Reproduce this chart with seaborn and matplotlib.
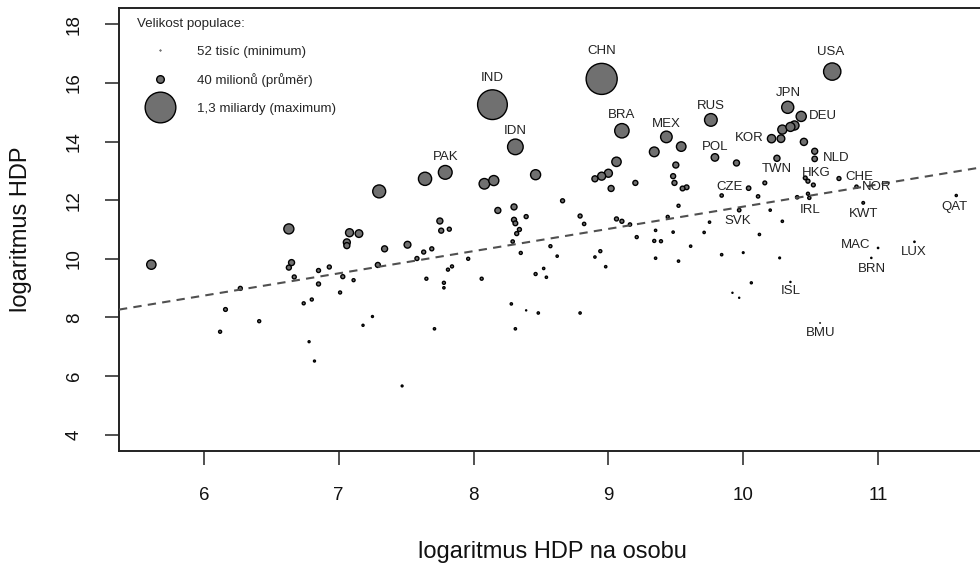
import numpy as np
import pandas as pd
import matplotlib
matplotlib.use("Agg")
import matplotlib.pyplot as plt
from matplotlib.lines import Line2D
import seaborn as sns

# kód země (jen u popsaných zemí), log HDP na osobu, log HDP, populace v milionech
zeme = ["", "", "", "", "", "", "", "", "", "",
        "", "", "", "", "", "", "", "", "", "",
        "", "", "", "", "", "", "", "", "", "",
        "", "CHN", "IND", "IDN", "PAK", "", "", "", "", "BRA",
        "MEX", "", "", "", "", "", "", "", "", "",
        "", "", "", "", "", "", "", "", "", "",
        "", "", "", "", "", "", "", "", "", "",
        "", "", "", "", "", "", "", "", "", "",
        "", "", "", "", "", "", "", "", "", "",
        "", "", "", "", "", "", "", "", "", "",
        "", "", "", "", "", "USA", "JPN", "DEU", "", "",
        "", "", "KOR", "RUS", "POL", "", "", "", "NLD", "TWN",
        "", "CZE", "", "", "", "", "HKG", "CHE", "NOR", "",
        "IRL", "", "KWT", "QAT", "", "SVK", "", "", "", "",
        "", "", "", "MAC", "LUX", "BRN", "", "ISL", "", "",
        "BMU"]
log_hdp_osoba = [5.61, 6.63, 7.30, 6.65, 6.63, 6.67, 6.85, 6.93, 6.85, 7.03,
                 7.01, 7.11, 7.08, 7.15, 7.06, 7.06, 7.34, 7.51, 7.58, 7.29,
                 6.27, 6.74, 6.80, 6.16, 6.12, 6.41, 6.78, 6.82, 7.18, 7.25,
                 7.47, 8.95, 8.14, 8.31, 7.79, 7.64, 8.08, 8.15, 8.46, 9.10,
                 9.43, 9.34, 9.54, 9.06, 9.00, 8.95, 8.90, 9.02, 9.20, 9.50,
                 9.48, 9.49, 9.55, 9.58, 9.52, 8.66, 8.18, 8.30, 8.39, 8.30,
                 8.31, 8.34, 8.32, 8.29, 8.35, 8.79, 8.82, 9.06, 9.10, 9.16,
                 7.75, 7.76, 7.82, 7.63, 7.69, 7.84, 7.81, 7.96, 8.57, 8.62,
                 8.94, 8.90, 8.98, 8.52, 8.54, 9.21, 9.35, 9.48, 9.34, 9.39,
                 9.61, 9.35, 9.52, 9.44, 7.65, 7.78, 7.78, 8.06, 8.46, 8.28,
                 8.39, 8.48, 7.71, 8.31, 8.79, 10.66, 10.33, 10.43, 10.38, 10.35,
                 10.29, 10.28, 10.21, 9.76, 9.79, 9.95, 10.45, 10.53, 10.53, 10.25,
                 10.16, 10.04, 10.11, 9.84, 10.46, 10.48, 10.52, 10.71, 10.84, 10.48,
                 10.49, 10.40, 10.89, 11.58, 10.20, 9.97, 9.75, 10.29, 9.71, 10.12,
                 9.84, 10.00, 10.27, 11.00, 11.27, 10.95, 10.06, 10.35, 9.92, 9.97,
                 10.57]
log_hdp = [9.80, 11.02, 12.30, 9.87, 9.70, 9.38, 9.60, 9.72, 9.14, 9.39,
           8.85, 9.27, 10.89, 10.86, 10.56, 10.45, 10.34, 10.48, 10.01, 9.79,
           8.99, 8.48, 8.61, 8.27, 7.51, 7.87, 7.17, 6.51, 7.73, 8.03,
           5.66, 16.14, 15.26, 13.82, 12.95, 12.73, 12.56, 12.67, 12.87, 14.37,
           14.16, 13.65, 13.83, 13.31, 12.92, 12.82, 12.73, 12.40, 12.59, 13.20,
           12.82, 12.59, 12.40, 12.44, 11.81, 11.98, 11.65, 11.77, 11.44, 11.33,
           11.21, 11.00, 10.86, 10.59, 10.20, 11.46, 11.19, 11.36, 11.28, 11.17,
           11.29, 10.96, 11.01, 10.23, 10.34, 9.74, 9.63, 10.00, 10.43, 10.09,
           10.26, 10.06, 9.73, 9.67, 9.37, 10.74, 10.97, 10.91, 10.61, 10.60,
           10.43, 10.02, 9.92, 11.43, 9.32, 9.18, 9.01, 9.32, 9.48, 8.46,
           8.24, 8.15, 7.61, 7.61, 8.15, 16.39, 15.17, 14.86, 14.55, 14.50,
           14.41, 14.10, 14.10, 14.74, 13.46, 13.27, 13.99, 13.67, 13.41, 13.43,
           12.59, 12.41, 12.13, 12.16, 12.76, 12.65, 12.52, 12.74, 12.46, 12.22,
           12.08, 12.10, 11.91, 12.16, 11.66, 11.66, 11.25, 11.28, 10.90, 10.83,
           10.14, 10.21, 10.03, 10.37, 10.58, 10.03, 9.18, 9.21, 8.84, 8.67,
           7.81]
populace = [66, 80, 150, 22, 14, 8, 8, 8, 8, 8,
            4, 4, 45, 40, 32, 22, 22, 30, 8, 14,
            8, 4, 4, 7, 4, 4, 1.4, 1.4, 1.6, 1.4,
            1.2, 1340, 1200, 240, 175, 158, 90, 80, 80, 195,
            113, 73, 70, 67, 45, 45, 22, 22, 14, 22,
            14, 14, 12, 12, 4, 8, 22, 22, 8, 14,
            12, 8, 8, 5, 4, 8, 5, 8, 8, 5,
            22, 14, 8, 8, 8, 4, 4, 4, 4, 2,
            4, 2, 2, 2, 2, 4, 2, 2, 4, 4,
            2, 2, 2, 4, 4, 4, 2, 4, 4, 2,
            0.3, 2, 2, 2, 2, 310, 127, 82, 62, 60,
            62, 40, 49, 142, 38, 22, 34, 22, 17, 23,
            7, 10, 5, 5, 7, 8, 7, 7.7, 4.9, 4,
            4.5, 5, 2.7, 1.7, 2, 5.4, 2, 2, 2, 2,
            2, 1, 1, 0.5, 0.5, 0.4, 1.5, 0.32, 0.3, 0.3,
            0.065]

legenda_populace = [0.052, 40, 1300]
legenda_popisky = ["52 tisíc (minimum)", "40 milionů (průměr)", "1,3 miliardy (maximum)"]

# regresní přímka: úsek a sklon
usek, sklon = 4.19, 0.759

# umístění popisků: zarovnání, posun v bodech
popisky = {
    "CHN": ("center", 0, 20), "IND": ("center", 0, 19.5), "IDN": ("center", 0, 11.5),
    "PAK": ("center", 0.5, 11.3), "BRA": ("center", 0, 11.3), "MEX": ("center", 0, 9.6),
    "RUS": ("center", 0, 9.8), "USA": ("center", -0.8, 14.2), "JPN": ("center", 0.5, 10),
    "POL": ("center", 0, 7.6), "DEU": ("left", 5.8, 0), "KOR": ("right", -5.8, 0.2),
    "NLD": ("left", 6, 0.4), "CHE": ("left", 4.3, 1.3), "NOR": ("left", 3.8, -0.3),
    "CZE": ("right", -4.5, 0.9), "MAC": ("right", -5.3, 1.8), "TWN": ("center", 0, -7.8),
    "HKG": ("center", 1.8, 8.3), "IRL": ("center", 0.5, -9), "SVK": ("center", -1.4, -7.9),
    "KWT": ("center", 0.2, -7.8), "QAT": ("center", -1.3, -8.3), "LUX": ("center", -0.7, -7.3),
    "BRN": ("center", 0.2, -7.8), "ISL": ("center", 0.4, -6.8), "BMU": ("center", 0.2, -7.1),
}

df = pd.DataFrame({"zeme": zeme, "x": log_hdp_osoba, "y": log_hdp, "pop": populace})
df["plocha"] = df["pop"] ** 0.8
df = df.sort_values("pop", ascending=False)

sns.set_style("ticks")
plt.rcParams["font.family"] = ["Liberation Sans", "DejaVu Sans"]

vmin, vmax = 0.052 ** 0.8, 1340 ** 0.8
smin, smax = 0.15, 500
seda = "#707070"

fig = plt.figure(figsize=(9.8, 5.67), dpi=100)
ax = fig.add_axes([0.1214, 0.2046, 0.8874, 0.7813])

sns.scatterplot(data=df, x="x", y="y", size="plocha", sizes=(smin, smax),
                size_norm=(vmin, vmax), color=seda, edgecolor="black",
                linewidth=1.0, legend=False, ax=ax, zorder=2)

ax.axline((0, usek), slope=sklon, color="#505050", linewidth=1.5,
          linestyle=(0, (4, 3)), zorder=3)

for _, r in df[df["zeme"] != ""].iterrows():
    ha, dx, dy = popisky[r["zeme"]]
    ax.annotate(r["zeme"], (r["x"], r["y"]), xytext=(dx, dy),
                textcoords="offset points", ha=ha, va="center",
                fontsize=9.5, color="#222222", zorder=4)

ax.set_xlim(5.37, 11.82)
ax.set_ylim(3.44, 18.56)
ax.set_xticks([6, 7, 8, 9, 10, 11])
ax.set_yticks([4, 6, 8, 10, 12, 14, 16, 18])
ax.tick_params(direction="out", length=10, width=1.1, pad=16,
               labelsize=13.5, color="#222222", labelcolor="#111111")
ax.tick_params(axis="y", labelrotation=90)
for t in ax.get_yticklabels():
    t.set_va("center")

ax.set_xlabel("logaritmus HDP na osobu", fontsize=17, color="#111111")
ax.set_ylabel("logaritmus HDP", fontsize=17, color="#111111")
ax.xaxis.set_label_coords(0.499, -0.203)
ax.yaxis.set_label_coords(-0.100, 0.5)

for s in ["left", "top", "bottom"]:
    ax.spines[s].set_linewidth(1.4)
    ax.spines[s].set_color("#222222")
ax.spines["right"].set_visible(False)


def plocha_znacky(p):
    return smin + (smax - smin) * (p ** 0.8 - vmin) / (vmax - vmin)


handles = [Line2D([], [], marker="o", linestyle="none",
                  markersize=np.sqrt(plocha_znacky(p)), markerfacecolor=seda,
                  markeredgecolor="black", markeredgewidth=1.0)
           for p in legenda_populace]
ax.legend(handles, legenda_popisky, title="Velikost populace:", loc="upper left",
          bbox_to_anchor=(0.0207, 0.977), frameon=False, fontsize=9.6,
          title_fontsize=9.6, alignment="left", handlelength=3.5,
          handletextpad=1.0, labelspacing=1.15, borderpad=0, borderaxespad=0)

fig.savefig("out.png", dpi=100)
